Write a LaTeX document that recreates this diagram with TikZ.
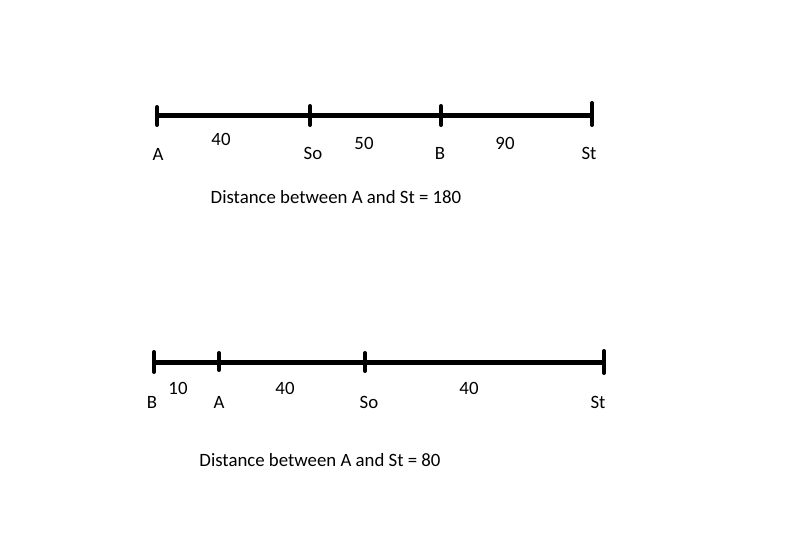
\documentclass[tikz,border=0pt]{standalone}
\usepackage{fontspec}
\setmainfont{Carlito}
\usetikzlibrary{positioning, calc}

\begin{document}
\begin{tikzpicture}[
  x=1pt, y=-1pt,
  font=\fontsize{18.8}{22}\selectfont,
  % thick number line and its tick marks
  axis/.style={line width=5pt, black},
  tick/.style={line width=4pt, black, line cap=round},
  pt/.style={inner sep=0pt, anchor=center},
  seg/.style={inner sep=0pt, anchor=center},
]
\useasboundingbox (0,0) rectangle (808,533);

%% ── Line 1: A, So, B, St ───────────────────────────────────────────────────
\coordinate (a1)  at (157,115);
\coordinate (so1) at (310,115);
\coordinate (b1)  at (441,115);
\coordinate (st1) at (592,115);

\draw[axis] (a1) -- (st1);
\draw[tick] ($(a1)+(0,-8)$)   -- ($(a1)+(0,10)$);
\draw[tick] ($(so1)+(0,-9)$)  -- ($(so1)+(0,10)$);
\draw[tick] ($(b1)+(0,-9)$)   -- ($(b1)+(0,10)$);
\draw[tick] ($(st1)+(0,-12)$) -- ($(st1)+(0,10)$);

\node[pt] (la1)  at (158,154) {A};
\node[pt] (lso1) at (313,153) {So};
\node[pt] (lb1)  at (440,153) {B};
\node[pt] (lst1) at (589,153) {St};

\node[seg] (d40)  at (221,139) {40};
\node[seg] (d50)  at (364,143) {50};
\node[seg] (d90)  at (505,143) {90};

\node[pt] (sum1) at (336,197) {Distance between A and St = 180};

%% ── Line 2: B, A, So, St ───────────────────────────────────────────────────
\coordinate (b2)  at (154,362);
\coordinate (a2)  at (219,362);
\coordinate (so2) at (365,362);
\coordinate (st2) at (604,362);

\draw[axis] (b2) -- (st2);
\draw[tick] ($(b2)+(0,-10)$)  -- ($(b2)+(0,10)$);
\draw[tick] ($(a2)+(0,-9)$)   -- ($(a2)+(0,8)$);
\draw[tick] ($(so2)+(0,-9)$)  -- ($(so2)+(0,9)$);
\draw[tick] ($(st2)+(0,-11)$) -- ($(st2)+(0,11)$);

\node[pt] (lb2)  at (152,402) {B};
\node[pt] (la2)  at (219,402) {A};
\node[pt] (lso2) at (369,402) {So};
\node[pt] (lst2) at (598,402) {St};

\node[seg] (d10)  at (178,388) {10};
\node[seg] (d40a) at (285,388) {40};
\node[seg] (d40b) at (469,388) {40};

\node[pt] (sum2) at (320,460) {Distance between A and St = 80};

\end{tikzpicture}
\end{document}
